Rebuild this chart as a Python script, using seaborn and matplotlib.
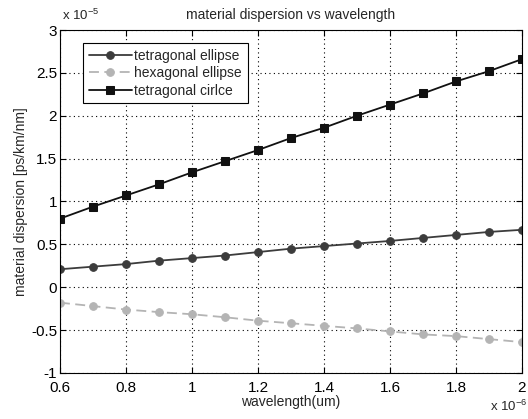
import numpy as np
import pandas as pd
import seaborn as sns
import matplotlib
matplotlib.use('Agg')
import matplotlib.pyplot as plt
from matplotlib.ticker import FuncFormatter

# wavelength in um (plotted in metres), dispersion in 1e-5 units
wavelength = [0.6, 0.7, 0.8, 0.9, 1.0, 1.1, 1.2, 1.3, 1.4, 1.5, 1.6, 1.7, 1.8, 1.9, 2.0]
tetragonal_ellipse = [0.21, 0.24, 0.27, 0.31, 0.34, 0.37, 0.41, 0.45, 0.48, 0.51,
                      0.54, 0.575, 0.61, 0.645, 0.67]
hexagonal_ellipse = [-0.18, -0.22, -0.26, -0.29, -0.315, -0.35, -0.39, -0.42, -0.45,
                     -0.48, -0.515, -0.55, -0.57, -0.605, -0.64]
tetragonal_circle = [0.80, 0.94, 1.07, 1.20, 1.34, 1.47, 1.60, 1.74, 1.86, 2.00,
                     2.13, 2.26, 2.40, 2.52, 2.66]
series_names = ['tetragonal ellipse', 'hexagonal ellipse', 'tetragonal cirlce']

sns.set_style('white')
plt.rcParams['font.family'] = ['Liberation Sans', 'DejaVu Sans']
plt.rcParams['axes.unicode_minus'] = False
plt.rcParams['mathtext.default'] = 'regular'

x = np.array(wavelength) * 1e-6
df = pd.DataFrame({
    'wavelength': np.tile(x, 3),
    'dispersion': np.concatenate([tetragonal_ellipse, hexagonal_ellipse, tetragonal_circle]) * 1e-5,
    'series': np.repeat(series_names, len(x)),
})

fig = plt.figure(figsize=(5.28, 4.19), dpi=100)
ax = fig.add_axes([0.1136, 0.1098, 0.8750, 0.8186])

styles = {
    'tetragonal ellipse': dict(color='#3c3c3c', marker='o', linestyle='-', markersize=5.5),
    'hexagonal ellipse': dict(color='#b4b4b4', marker='o', linestyle=(0, (5.5, 3)), markersize=5.5),
    'tetragonal cirlce': dict(color='#111111', marker='s', linestyle='-', markersize=6),
}
for name in series_names:
    st = styles[name]
    sns.lineplot(data=df[df['series'] == name], x='wavelength', y='dispersion', ax=ax,
                 color=st['color'], marker=st['marker'], linestyle=st['linestyle'],
                 markersize=st['markersize'], markeredgecolor=st['color'],
                 linewidth=1.3, label=name)

ax.set_xlim(0.6e-6, 2.0e-6)
ax.set_ylim(-1e-5, 3e-5)
ax.set_xticks(np.arange(0.6, 2.01, 0.2) * 1e-6)
ax.set_yticks(np.arange(-1, 3.01, 0.5) * 1e-5)

# matlab-style %g tick labels with separate exponent text
ax.xaxis.set_major_formatter(FuncFormatter(lambda v, p: f'{round(v / 1e-6, 6):g}'))
ax.yaxis.set_major_formatter(FuncFormatter(lambda v, p: f'{round(v / 1e-5, 6):g}'))
fig.text(0.117, 0.945, 'x 10$^{-5}$', fontsize=9.5, ha='left', va='bottom')
fig.text(0.998, 0.012, 'x 10$^{-6}$', fontsize=9.5, ha='right', va='bottom')

ax.grid(True, color='black', linestyle=(0, (1, 3)), linewidth=0.8)
ax.tick_params(direction='in', length=4, labelsize=11, colors='black', pad=2,
               top=True, right=True, bottom=True, left=True)
ax.tick_params(axis='x', pad=6)
for sp in ax.spines.values():
    sp.set_color('black')
    sp.set_linewidth(0.8)

ax.set_title('material dispersion vs wavelength', fontsize=10, pad=8)
ax.set_xlabel('wavelength(um)', fontsize=10, labelpad=0)
ax.set_ylabel('material dispersion [ps/km/nm]', fontsize=10, labelpad=2)

leg = ax.legend(loc='upper left', bbox_to_anchor=(0.05, 0.962), borderaxespad=0,
                fontsize=10, frameon=True, fancybox=False, edgecolor='black',
                framealpha=1, handlelength=3.1, borderpad=0.4, labelspacing=0.25,
                handletextpad=0.2)
leg.get_frame().set_linewidth(0.8)

fig.savefig('out.png', dpi=100)
